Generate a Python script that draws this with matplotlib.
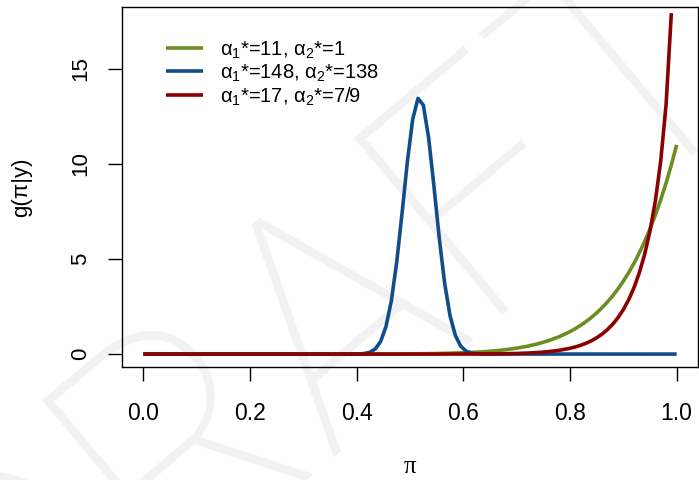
import matplotlib
matplotlib.use("Agg")
import matplotlib.pyplot as plt

plt.rcParams['font.family'] = ['Liberation Sans', 'DejaVu Sans']
plt.rcParams['mathtext.fontset'] = 'custom'
plt.rcParams['mathtext.rm'] = 'Liberation Sans'
plt.rcParams['mathtext.it'] = 'Liberation Sans:italic'

# ---- data ----
x_green = [0.0, 0.1, 0.2, 0.3, 0.4, 0.45, 0.5, 0.55, 0.6, 0.62, 0.64, 0.66, 0.68,
           0.70, 0.72, 0.74, 0.76, 0.78, 0.80, 0.81, 0.82, 0.83, 0.84, 0.85, 0.86,
           0.87, 0.88, 0.89, 0.90, 0.91, 0.92, 0.93, 0.94, 0.95, 0.96, 0.97, 0.98,
           0.99, 1.0]
y_green = [0.0, 0.0, 0.0, 0.0, 0.0012, 0.0038, 0.011, 0.028, 0.067, 0.092, 0.127,
           0.173, 0.233, 0.311, 0.412, 0.542, 0.707, 0.917, 1.181, 1.337, 1.512,
           1.707, 1.924, 2.166, 2.434, 2.733, 3.064, 3.430, 3.836, 4.284, 4.778,
           5.324, 5.925, 6.586, 7.313, 8.112, 8.988, 9.948, 11.0]

x_blue = [0.0, 0.385, 0.395, 0.405, 0.415, 0.425, 0.435, 0.445, 0.455, 0.465, 0.475,
          0.485, 0.495, 0.505, 0.515, 0.525, 0.535, 0.545, 0.555, 0.565, 0.575,
          0.585, 0.595, 0.605, 0.615, 0.625, 0.635, 0.645, 1.0]
y_blue = [0.0, 0.0005, 0.0022, 0.009, 0.032, 0.099, 0.272, 0.666, 1.447, 2.795,
          4.810, 7.379, 10.098, 12.335, 13.448, 13.087, 11.362, 8.795, 6.064,
          3.720, 2.027, 0.980, 0.419, 0.158, 0.053, 0.015, 0.004, 0.001, 0.0]

x_red = [0.0, 0.1, 0.2, 0.3, 0.4, 0.5, 0.55, 0.6, 0.62, 0.64, 0.65, 0.66, 0.68,
         0.70, 0.72, 0.74, 0.76, 0.78, 0.80, 0.81, 0.82, 0.83, 0.84, 0.85, 0.86,
         0.87, 0.88, 0.89, 0.90, 0.91, 0.92, 0.93, 0.94, 0.95, 0.96, 0.97, 0.98,
         0.99]
y_red = [0.0, 0.0, 0.0, 0.0, 0.0, 0.0001, 0.0006, 0.0026, 0.0045, 0.0075, 0.0097,
         0.0125, 0.0204, 0.0329, 0.0524, 0.0826, 0.129, 0.199, 0.305, 0.376,
         0.463, 0.569, 0.699, 0.857, 1.049, 1.284, 1.568, 1.916, 2.340, 2.858,
         3.494, 4.281, 5.256, 6.483, 8.052, 10.137, 13.070, 17.93]

labels = [r'$\mathregular{\alpha_1}$*=11, $\mathregular{\alpha_2}$*=1',
          r'$\mathregular{\alpha_1}$*=148, $\mathregular{\alpha_2}$*=138',
          r'$\mathregular{\alpha_1}$*=17, $\mathregular{\alpha_2}$*=7/9']
colors = ['#6B8E23', '#104E8B', '#8B0000']

x_ticks = [0.0, 0.2, 0.4, 0.6, 0.8, 1.0]
x_ticklabels = ['0.0', '0.2', '0.4', '0.6', '0.8', '1.0']
y_ticks = [0, 5, 10, 15]
y_ticklabels = ['0', '5', '10', '15']

# ---- figure ----
fig = plt.figure(figsize=(6.99, 4.80), dpi=100)
fig.text(0.544, 0.185, 'DRAFT', rotation=40, rotation_mode='anchor',
         fontsize=234, color='#f2f2f2', family=['Roboto', 'Liberation Sans'],
         fontweight='light', ha='center', va='baseline', zorder=-5)

ax = fig.add_axes([0.1745, 0.2354, 0.8241, 0.75])
ax.patch.set_alpha(0)

lw = 2.6
ax.plot(x_green, y_green, color=colors[0], lw=lw, label=labels[0], solid_capstyle='butt')
ax.plot(x_blue, y_blue, color=colors[1], lw=lw, label=labels[1], solid_capstyle='butt')
ax.plot(x_red, y_red, color=colors[2], lw=lw, label=labels[2], solid_capstyle='butt')

ax.set_xlim(-0.04, 1.04)
ax.set_ylim(-0.68, 18.25)

ax.set_xticks(x_ticks)
ax.set_xticklabels(x_ticklabels, fontsize=16.5)
ax.set_yticks(y_ticks)
ax.set_yticklabels(y_ticklabels, fontsize=16, rotation=90, va='center')

for s in ['top', 'right', 'left', 'bottom']:
    ax.spines[s].set_linewidth(1.0)
    ax.spines[s].set_color('black')

ax.tick_params(axis='x', length=10, width=1.0, pad=15, direction='out')
ax.tick_params(axis='y', length=10, width=1.0, pad=12, direction='out')

ax.set_xlabel('π', fontsize=18, family=['Liberation Serif', 'DejaVu Serif'])
ax.xaxis.set_label_coords(0.5, -0.278)
ax.xaxis.label.set_va('center')
ax.set_ylabel('g(π|y)', fontsize=16)
ax.yaxis.set_label_coords(-0.174, 0.5)
ax.yaxis.label.set_va('center')

leg = ax.legend(loc='upper left', bbox_to_anchor=(0.076, 0.91), frameon=False,
                fontsize=14.5, handlelength=1.84, handletextpad=0.85,
                labelspacing=0.08, borderaxespad=0.0, borderpad=0.0)

fig.savefig('out.png', dpi=100)
